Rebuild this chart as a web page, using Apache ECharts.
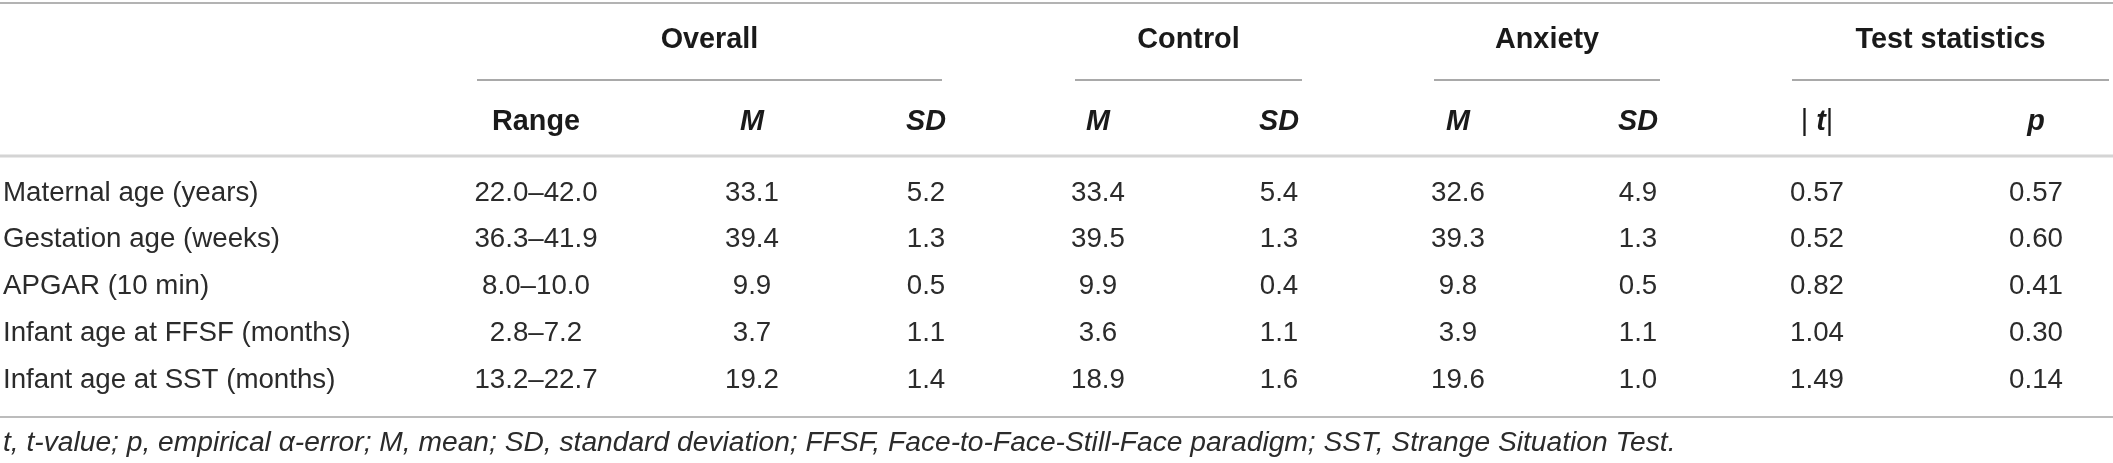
<!DOCTYPE html>
<html>
<head>
<meta charset="utf-8">
<title>Sample characteristics</title>
<script src="https://cdn.jsdelivr.net/npm/echarts@6/dist/echarts.min.js"></script>
<style>
  html, body { margin: 0; padding: 0; background: #ffffff; }
  #main { width: 2113px; height: 463px; }
</style>
</head>
<body>
<div id="main"></div>
<script>
// table content
const groupNames = ['Overall', 'Control', 'Anxiety', 'Test statistics'];
const subHeaders = ['Range', 'M', 'SD', 'M', 'SD', 'M', 'SD', '|t|', 'p'];
const rowLabels = [
  'Maternal age (years)',
  'Gestation age (weeks)',
  'APGAR (10 min)',
  'Infant age at FFSF (months)',
  'Infant age at SST (months)'
];
const overallRange = ['22.0–42.0', '36.3–41.9', '8.0–10.0', '2.8–7.2', '13.2–22.7'];
const overallM = [33.1, 39.4, 9.9, 3.7, 19.2];
const overallSD = [5.2, 1.3, 0.5, 1.1, 1.4];
const controlM = [33.4, 39.5, 9.9, 3.6, 18.9];
const controlSD = [5.4, 1.3, 0.4, 1.1, 1.6];
const anxietyM = [32.6, 39.3, 9.8, 3.9, 19.6];
const anxietySD = [4.9, 1.3, 0.5, 1.1, 1.0];
const tAbs = [0.57, 0.52, 0.82, 1.04, 1.49];
const pValues = [0.57, 0.6, 0.41, 0.3, 0.14];
const footnote = 't, t-value; p, empirical α-error; M, mean; SD, standard deviation; ' +
  'FFSF, Face-to-Face-Still-Face paradigm; SST, Strange Situation Test.';

// layout (in page units, the axes run 0..2113 and 0..463)
const W = 2113;
const H = 463;
const labelX = 3;
const colX = [536, 752, 926, 1098, 1279, 1458, 1638, 1817, 2036];
const groupSpans = [[477, 942], [1075, 1302], [1434, 1660], [1792, 2109]];
const groupY = 40;
const groupLineY = 80;
const subY = 122;
const rowY = [193, 239, 286, 333, 380];
const footY = 443;

const FONT = '"Liberation Sans", Arial, Helvetica, sans-serif';
const TEXT = '#2b2b2b';
const HEAD_SIZE = 28.8;
const BODY_SIZE = 27.7;
const FOOT_SIZE = 28.2;

// build the cells
let cells = [];
groupNames.forEach(function (name, i) {
  const s = groupSpans[i];
  cells.push({ x: (s[0] + s[1]) / 2, y: groupY, text: name, kind: 'group' });
});
subHeaders.forEach(function (h, i) {
  cells.push({ x: colX[i], y: subY, text: h, kind: i === 0 ? 'group' : (h === '|t|' ? 'tabs' : 'italicBold') });
});
const columns = [
  overallRange,
  overallM.map(v => v.toFixed(1)),
  overallSD.map(v => v.toFixed(1)),
  controlM.map(v => v.toFixed(1)),
  controlSD.map(v => v.toFixed(1)),
  anxietyM.map(v => v.toFixed(1)),
  anxietySD.map(v => v.toFixed(1)),
  tAbs.map(v => v.toFixed(2)),
  pValues.map(v => v.toFixed(2))
];
rowLabels.forEach(function (label, r) {
  cells.push({ x: labelX, y: rowY[r], text: label, kind: 'label' });
  columns.forEach(function (col, c) {
    cells.push({ x: colX[c], y: rowY[r], text: String(col[r]), kind: 'body' });
  });
});
cells.push({ x: labelX, y: footY, text: footnote, kind: 'foot' });

// horizontal rules: [x1, x2, y, colour, width]
let rules = [
  [0, W, 3, '#9a9a9a', 1.5],
  [0, W, 156, '#d4d4d4', 3],
  [0, W, 417, '#a6a6a6', 1.5]
];
groupSpans.forEach(function (s) {
  rules.push([s[0], s[1], groupLineY, '#8c8c8c', 1.5]);
});

function cellStyle(cell) {
  const base = {
    text: cell.text,
    fontFamily: FONT,
    fontSize: BODY_SIZE,
    fill: TEXT,
    align: 'center',
    verticalAlign: 'middle'
  };
  if (cell.kind === 'group') {
    base.fontWeight = 'bold';
    base.fontSize = HEAD_SIZE;
    base.fill = '#1a1a1a';
  } else if (cell.kind === 'italicBold') {
    base.fontWeight = 'bold';
    base.fontStyle = 'italic';
    base.fontSize = HEAD_SIZE;
    base.fill = '#1a1a1a';
  } else if (cell.kind === 'tabs') {
    base.text = '{n|| }{i|t}{n||}';
    base.rich = {
      n: { fontFamily: FONT, fontSize: HEAD_SIZE, fill: '#1a1a1a', fontWeight: 'normal' },
      i: { fontFamily: FONT, fontSize: HEAD_SIZE, fill: '#1a1a1a', fontWeight: 'bold', fontStyle: 'italic' }
    };
  } else if (cell.kind === 'label') {
    base.align = 'left';
  } else if (cell.kind === 'foot') {
    base.align = 'left';
    base.fontStyle = 'italic';
    base.fontSize = FOOT_SIZE;
  }
  return base;
}

const chart = echarts.init(document.getElementById('main'), null, { renderer: 'canvas' });
chart.setOption({
  backgroundColor: '#ffffff',
  animation: false,
  grid: { left: 0, right: 0, top: 0, bottom: 0 },
  xAxis: { type: 'value', min: 0, max: W, show: false },
  yAxis: { type: 'value', min: 0, max: H, inverse: true, show: false },
  series: [
    {
      name: 'rules',
      type: 'custom',
      data: rules,
      renderItem: function (params, api) {
        const a = api.coord([api.value(0), api.value(2)]);
        const b = api.coord([api.value(1), api.value(2)]);
        const r = rules[params.dataIndex];
        return {
          type: 'line',
          shape: { x1: a[0], y1: a[1], x2: b[0], y2: b[1] },
          style: { stroke: r[3], lineWidth: r[4] },
          silent: true
        };
      }
    },
    {
      name: 'cells',
      type: 'custom',
      data: cells.map(c => [c.x, c.y]),
      renderItem: function (params, api) {
        const p = api.coord([api.value(0), api.value(1)]);
        return {
          type: 'text',
          x: p[0],
          y: p[1],
          style: cellStyle(cells[params.dataIndex]),
          silent: true
        };
      }
    }
  ]
});
</script>
</body>
</html>
